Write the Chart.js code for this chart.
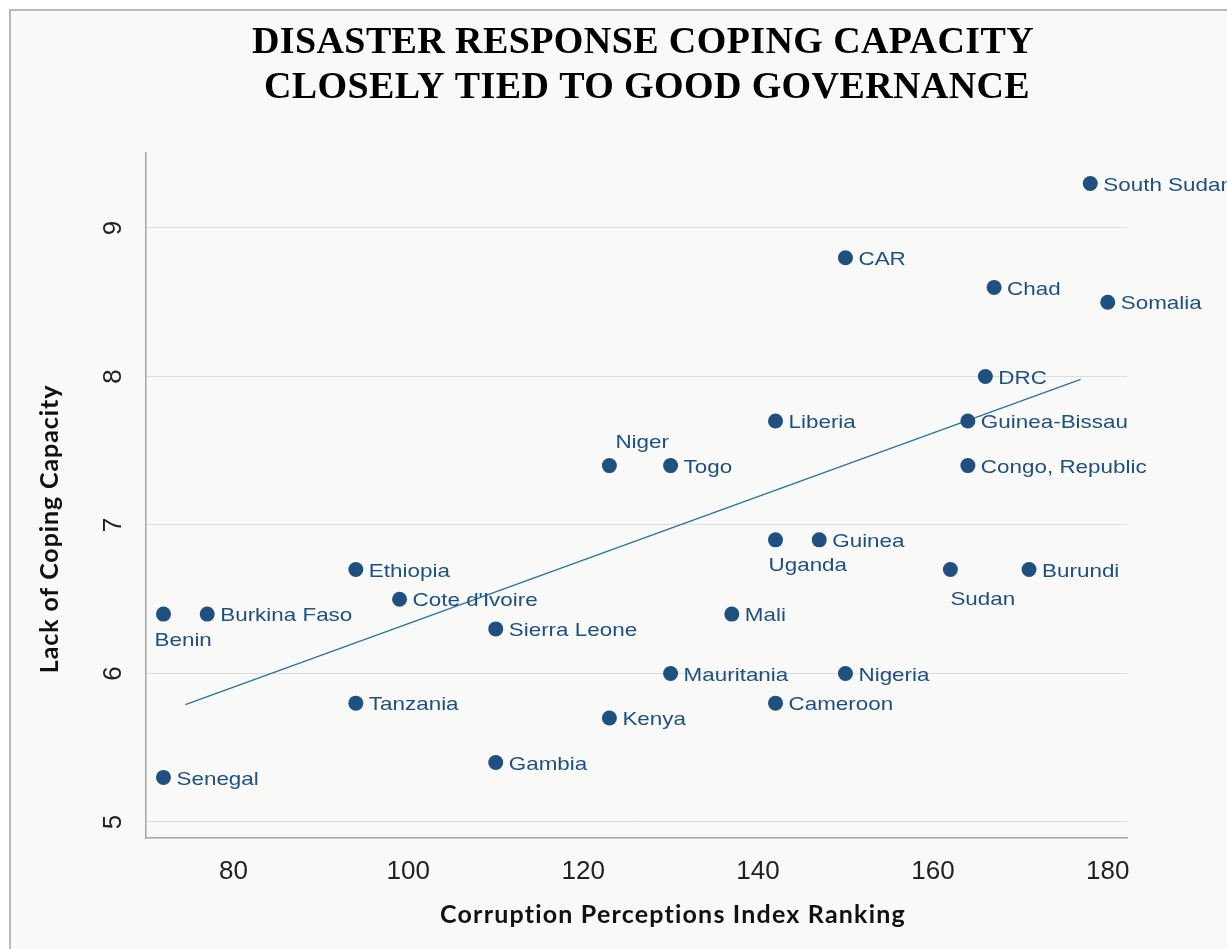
<!DOCTYPE html>
<html>
<head>
<meta charset="utf-8">
<script src="https://cdn.jsdelivr.net/npm/chart.js@4.4.1/dist/chart.umd.min.js"></script>
<style>
  html, body { margin: 0; padding: 0; background: #ffffff; overflow: hidden; }
  #frame {
    position: absolute; left: 9px; top: 9px; width: 1300px; height: 1000px;
    border-left: 2px solid #b9b9b9; border-top: 2px solid #b9b9b9;
    background: #f9f9f8;
  }
  #wrap { position: absolute; left: 0; top: 0; width: 1227px; height: 949px; }
</style>
</head>
<body>
<div id="frame"></div>
<div id="wrap"><canvas id="chart"></canvas></div>
<script>
// Countries, their Corruption Perceptions Index rank and lack-of-coping-capacity score
const countries = ['South Sudan', 'CAR', 'Chad', 'Somalia', 'DRC', 'Liberia', 'Guinea-Bissau',
  'Niger', 'Togo', 'Congo, Republic', 'Uganda', 'Guinea', 'Ethiopia', 'Sudan', 'Burundi',
  "Cote d'Ivoire", 'Benin', 'Burkina Faso', 'Mali', 'Sierra Leone', 'Mauritania', 'Nigeria',
  'Tanzania', 'Cameroon', 'Kenya', 'Gambia', 'Senegal'];
const cpiRank = [178, 150, 167, 180, 166, 142, 164,
  123, 130, 164, 142, 147, 94, 162, 171,
  99, 72, 77, 137, 110, 130, 150,
  94, 142, 123, 110, 72];
const copingGap = [9.3, 8.8, 8.6, 8.5, 8.0, 7.7, 7.7,
  7.4, 7.4, 7.4, 6.9, 6.9, 6.7, 6.7, 6.7,
  6.5, 6.4, 6.4, 6.4, 6.3, 6.0, 6.0,
  5.8, 5.8, 5.7, 5.4, 5.3];

// Linear trend line end points
const trendX = [74.5, 176.9];
const trendY = [5.79, 7.98];

// Axis tick values
const xTicks = [80, 100, 120, 140, 160, 180];
const yTicks = [5, 6, 7, 8, 9];

const titleLines = ['DISASTER RESPONSE COPING CAPACITY', 'CLOSELY TIED TO GOOD GOVERNANCE'];
const xTitle = 'Corruption Perceptions Index Ranking';
const yTitle = 'Lack of Coping Capacity';

const MARK = '#1f5080';
const TREND = '#2a74a0';

// Labels that sit above or below their marker instead of to the right
const labelShift = {
  'Niger': [6, -25],
  'Benin': [-9, 25],
  'Uganda': [-7, 24],
  'Sudan': [0, 28]
};

const pointLabels = {
  id: 'pointLabels',
  afterDatasetsDraw(chart) {
    const ctx = chart.ctx;
    const meta = chart.getDatasetMeta(0);
    ctx.save();
    ctx.fillStyle = MARK;
    ctx.font = '19px "Liberation Sans", Arial, sans-serif';
    ctx.textBaseline = 'middle';
    ctx.textAlign = 'left';
    meta.data.forEach((el, i) => {
      const name = countries[i];
      const s = labelShift[name] || [13, 0];
      ctx.save();
      ctx.translate(el.x + s[0], el.y + s[1] + 2);
      ctx.scale(1.18, 1);
      ctx.fillText(name, 0, 0);
      ctx.restore();
    });
    ctx.restore();
  }
};

const titles = {
  id: 'titles',
  afterDraw(chart) {
    const ctx = chart.ctx;
    ctx.save();
    ctx.fillStyle = '#000';
    ctx.textAlign = 'center';
    ctx.textBaseline = 'alphabetic';
    ctx.font = 'bold 38px "Liberation Serif", "Times New Roman", serif';
    ctx.letterSpacing = '0.4px';
    ctx.fillText(titleLines[0], 643, 53);
    ctx.fillText(titleLines[1], 647, 98);

    ctx.fillStyle = '#111';
    ctx.font = 'bold 25px Lato, "Open Sans", sans-serif';
    ctx.letterSpacing = '1.2px';
    ctx.fillText(xTitle, 673, 923);

    ctx.letterSpacing = '0.9px';
    ctx.save();
    ctx.translate(58, 529);
    ctx.rotate(-Math.PI / 2);
    ctx.fillText(yTitle, 0, 0);
    ctx.restore();
    ctx.restore();
  }
};

new Chart(document.getElementById('chart'), {
  type: 'scatter',
  data: {
    datasets: [
      {
        data: cpiRank.map((x, i) => ({ x, y: copingGap[i] })),
        backgroundColor: MARK,
        borderColor: MARK,
        pointRadius: 7.5,
        pointHoverRadius: 7.5,
        borderWidth: 0
      },
      {
        type: 'line',
        data: trendX.map((x, i) => ({ x, y: trendY[i] })),
        borderColor: TREND,
        borderWidth: 1.4,
        pointRadius: 0,
        fill: false
      }
    ]
  },
  options: {
    responsive: true,
    maintainAspectRatio: false,
    animation: false,
    events: [],
    layout: { padding: { left: 0, top: 153, right: 100, bottom: 0 } },
    plugins: { legend: { display: false }, tooltip: { enabled: false }, title: { display: false } },
    scales: {
      x: {
        type: 'linear',
        min: 70,
        max: 182.2,
        afterBuildTicks(scale) { scale.ticks = xTicks.map(v => ({ value: v })); },
        afterFit(scale) { scale.height = 111; },
        grid: { display: false, drawTicks: false },
        border: { display: true, color: '#a6a6a6', width: 1.5 },
        ticks: {
          padding: 18,
          color: '#222',
          font: { family: '"Liberation Sans", Arial, sans-serif', size: 26 },
          maxRotation: 0
        }
      },
      y: {
        type: 'linear',
        min: 4.892,
        max: 9.505,
        afterBuildTicks(scale) { scale.ticks = yTicks.map(v => ({ value: v })); },
        afterFit(scale) { scale.width = 146; },
        grid: { display: true, color: '#dcdcdc', lineWidth: 1, drawTicks: false },
        border: { display: true, color: '#a6a6a6', width: 1.5 },
        ticks: {
          padding: 25,
          color: '#222',
          crossAlign: 'center',
          minRotation: 90,
          maxRotation: 90,
          font: { family: '"Liberation Sans", Arial, sans-serif', size: 26 }
        }
      }
    }
  },
  plugins: [pointLabels, titles]
});
</script>
</body>
</html>
